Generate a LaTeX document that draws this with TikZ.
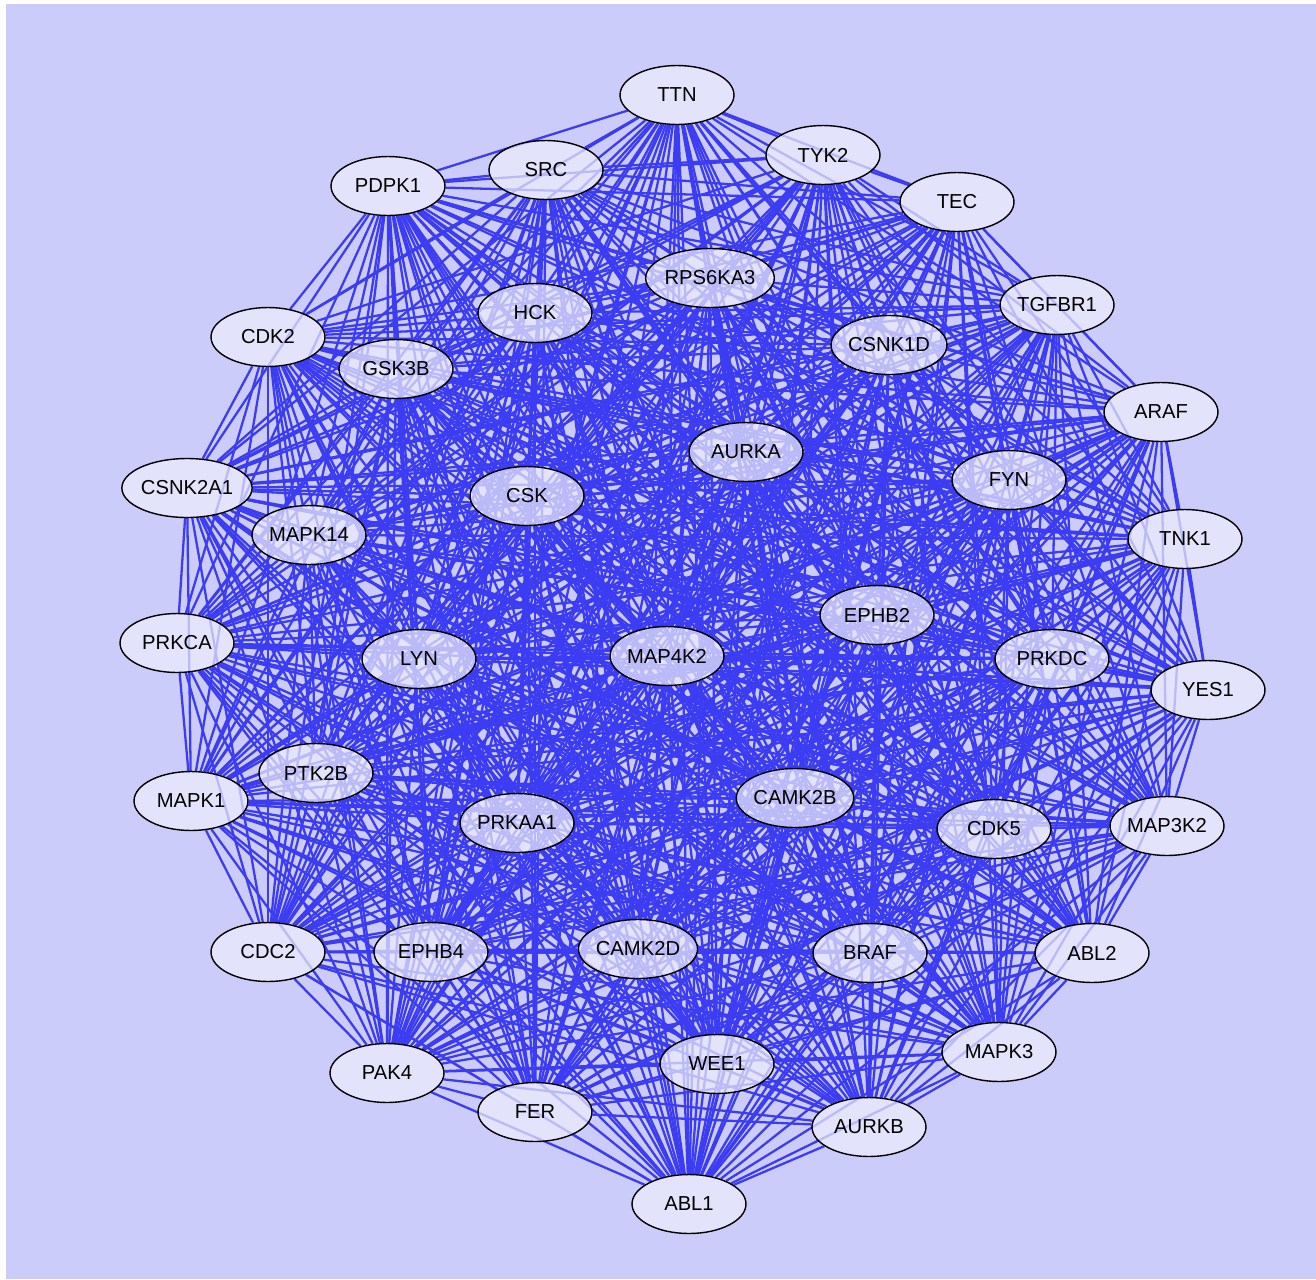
\documentclass[tikz,border=0pt]{standalone}
\usepackage{fontspec}
\setmainfont{Liberation Sans}
\usetikzlibrary{shapes.geometric}
\definecolor{netback}{RGB}{204, 204, 250}
\definecolor{netblue}{RGB}{60, 60, 242}
\definecolor{genefill}{RGB}{236, 236, 252}
\pgfdeclarelayer{backdrop}
\pgfdeclarelayer{edges}
\pgfsetlayers{backdrop,edges,main}
\tikzset{
  gene/.style={ellipse, draw=black, line width=0.8pt, fill=genefill,
    fill opacity=0.72, text opacity=1, minimum width=2.28cm,
    minimum height=1.18cm, inner sep=0pt, font=\fontsize{11.5}{13}\selectfont},
  link/.style={netblue, line width=1.3pt}
}

\begin{document}
\begin{tikzpicture}[x=0.02cm, y=-0.02cm]
  \useasboundingbox (0, 0) rectangle (1316, 1279);
  \begin{pgfonlayer}{backdrop}
    \fill[white] (0, 0) rectangle (1316, 1279);
    \fill[netback] (6, 4) rectangle (1316, 1279);
  \end{pgfonlayer}

  % genes
  \foreach \g/\x/\y in {TTN/677/95, TYK2/823/155, SRC/546/170, PDPK1/388/186,
      TEC/957/202, RPS6KA3/710/278, HCK/535/313, TGFBR1/1057/305,
      CDK2/268/337, CSNK1D/889/345, GSK3B/396/369, ARAF/1161/412,
      AURKA/746/452, FYN/1009/480, CSNK2A1/187/488, CSK/527/496,
      MAPK14/309/535, TNK1/1185/539, EPHB2/877/615, PRKCA/177/643,
      LYN/419/659, MAP4K2/667/656, PRKDC/1052/659, YES1/1208/690,
      PTK2B/316/773, MAPK1/191/801, CAMK2B/795/798, PRKAA1/517/823,
      CDK5/994/829, MAP3K2/1167/826, CDC2/268/952, EPHB4/431/952,
      CAMK2D/638/949, BRAF/870/953, ABL2/1092/953, MAPK3/999/1052,
      WEE1/717/1064, PAK4/387/1073, FER/535/1112, AURKB/869/1127,
      ABL1/689/1204}
    \node[gene] (\g) at (\x, \y) {\g};

  % interactions
  \begin{pgfonlayer}{edges}
    \foreach \a [count=\i] in {TTN, TYK2, SRC, PDPK1, TEC, RPS6KA3, HCK,
        TGFBR1, CDK2, CSNK1D, GSK3B, ARAF, AURKA, FYN, CSNK2A1, CSK, MAPK14,
        TNK1, EPHB2, PRKCA, LYN, MAP4K2, PRKDC, YES1, PTK2B, MAPK1, CAMK2B,
        PRKAA1, CDK5, MAP3K2, CDC2, EPHB4, CAMK2D, BRAF, ABL2, MAPK3, WEE1,
        PAK4, FER, AURKB, ABL1}
      \foreach \b [count=\j] in {TTN, TYK2, SRC, PDPK1, TEC, RPS6KA3, HCK,
          TGFBR1, CDK2, CSNK1D, GSK3B, ARAF, AURKA, FYN, CSNK2A1, CSK, MAPK14,
          TNK1, EPHB2, PRKCA, LYN, MAP4K2, PRKDC, YES1, PTK2B, MAPK1, CAMK2B,
          PRKAA1, CDK5, MAP3K2, CDC2, EPHB4, CAMK2D, BRAF, ABL2, MAPK3, WEE1,
          PAK4, FER, AURKB, ABL1}
        {\ifnum\j>\i \draw[link] (\a) -- (\b); \fi}
  \end{pgfonlayer}
\end{tikzpicture}
\end{document}
